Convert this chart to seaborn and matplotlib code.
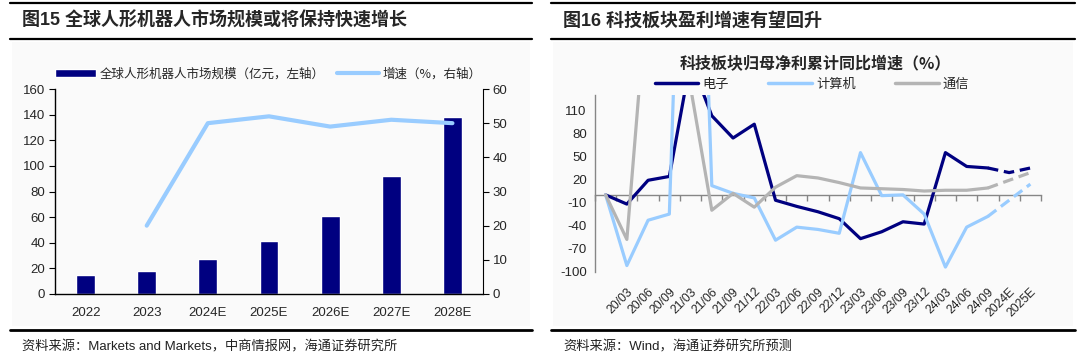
import numpy as np
import pandas as pd
import seaborn as sns
import matplotlib
matplotlib.use('Agg')
from matplotlib import pyplot as plt
from matplotlib.lines import Line2D
from matplotlib.patches import Rectangle

# left chart: global humanoid robot market
years = ['2022', '2023', '2024E', '2025E', '2026E', '2027E', '2028E']
market_size = [15, 18, 27, 41, 61, 92, 138]
growth_years = ['2023', '2024E', '2025E', '2026E', '2027E', '2028E']
growth = [20, 50, 52, 49, 51, 50]

# right chart: STAR-market profit growth by sector (first slot is a blank category)
quarters = ['', '20/03', '20/06', '20/09', '21/03', '21/06', '21/09', '21/12', '22/03', '22/06',
            '22/09', '22/12', '23/03', '23/06', '23/09', '23/12', '24/03', '24/06', '24/09',
            '2024E', '2025E']
electronics = [0, -12, 19, 24, 175, 103, 74, 92, -7, -15, -22, -31, -57, -48, -35, -38, 55, 37, 35, 29, 35]
computer = [0, -92, -33, -25, 800, 12, 2, -4, -59, -42, -45, -50, 55, -1, 0, -25, -94, -42, -28, -7, 14]
telecom = [0, -58, 280, 250, 140, -20, 2, -16, 10, 25, 22, 16, 9, 8, 7, 5, 6, 6, 9, 19, 29]
last_actual = '24/09'

NAVY = '#000080'
LIGHT = '#99CCFF'
GRAY = '#B4B4B4'
AXGRAY = '#868686'
W, H = 1080, 362

sns.set_style('white')
plt.rcParams['font.family'] = ['Liberation Sans', 'Noto Sans CJK SC', 'DejaVu Sans']
plt.rcParams['axes.unicode_minus'] = False
CJK = ['Noto Sans CJK SC', 'DejaVu Sans']

fig = plt.figure(figsize=(W / 100, H / 100), dpi=100)


def fx(x):
    return x / W


def fy(y):
    return 1 - y / H


# panel backgrounds and header / footer rules
for x0, x1 in [(10, 532), (551, 1075)]:
    fig.add_artist(Rectangle((fx(x0 + 2), fy(326)), fx(x1 - x0 - 4), (284) / H,
                             transform=fig.transFigure, facecolor='#fafafa', edgecolor='none', zorder=0))
    for y, lw in [(3, 1.6), (39, 1.6), (330, 2.0)]:
        fig.add_artist(Line2D([fx(x0), fx(x1)], [fy(y), fy(y)], transform=fig.transFigure,
                              color='black', lw=lw))

fig.text(fx(22), fy(21), '图15 全球人形机器人市场规模或将保持快速增长', fontsize=13, fontweight='bold',
         va='center', ha='left')
fig.text(fx(563), fy(21), '图16 科技板块盈利增速有望回升', fontsize=13, fontweight='bold',
         va='center', ha='left')
fig.text(fx(22), fy(347), '资料来源：Markets and Markets，中商情报网，海通证券研究所', fontsize=9.5,
         va='center', ha='left', color='#222222')
fig.text(fx(563), fy(347), '资料来源：Wind，海通证券研究所预测', fontsize=9.5,
         va='center', ha='left', color='#222222')

# ---- left chart ----
ax1 = fig.add_axes([fx(55), fy(294), fx(428), 205 / H])
ax1.set_facecolor('none')
df_bar = pd.DataFrame({'year': years, 'size': market_size})
sns.barplot(data=df_bar, x='year', y='size', color=NAVY, saturation=1, width=0.31, ax=ax1)
ax1.set_ylim(0, 160)
ax1.set_yticks(range(0, 161, 20))
ax1.set_xlim(-0.5, len(years) - 0.5)
ax1.set_xticks(np.arange(-0.5, len(years), 1), minor=True)
ax1.tick_params(axis='x', which='major', length=0, pad=9, labelsize=9.5)
ax1.tick_params(axis='x', which='minor', length=4, direction='out', color='black', width=1)
ax1.tick_params(axis='y', length=4, direction='out', color='black', labelsize=9.5, pad=3)
ax1.set_xlabel('')
ax1.set_ylabel('')
for s in ['top', 'right']:
    ax1.spines[s].set_visible(False)
for s in ['left', 'bottom']:
    ax1.spines[s].set_color('black')
    ax1.spines[s].set_linewidth(1)

ax2 = ax1.twinx()
growth_pos = [years.index(y) for y in growth_years]
sns.lineplot(x=growth_pos, y=growth, color=LIGHT, linewidth=3, ax=ax2)
ax2.set_ylim(0, 60)
ax2.set_yticks(range(0, 61, 10))
ax2.set_xlim(-0.5, len(years) - 0.5)
ax2.tick_params(axis='y', length=4, direction='out', color='black', labelsize=9.5, pad=3)
for s in ['top', 'left', 'bottom']:
    ax2.spines[s].set_visible(False)
ax2.spines['right'].set_color('black')
ax2.set_ylabel('')

fig.legend(handles=[ax1.patches[0], ax2.lines[0]],
           labels=['全球人形机器人市场规模（亿元，左轴）', '增速（%，右轴）'],
           loc='center', bbox_to_anchor=(fx(268), fy(74)), bbox_transform=fig.transFigure,
           ncol=2, frameon=False, handlelength=3.3, handleheight=0.6, handletextpad=0.3,
           columnspacing=1.0, prop={'family': CJK, 'size': 9})

# ---- right chart ----
ax3 = fig.add_axes([fx(595), fy(271.7), fx(446), 176.7 / H])
ax3.set_facecolor('none')
split = quarters.index(last_actual)
rows = []
for name, vals in [('电子', electronics), ('计算机', computer), ('通信', telecom)]:
    for i, v in enumerate(vals):
        if i <= split:
            rows.append((i, v, name, 'actual'))
        if i >= split:
            rows.append((i, v, name, 'forecast'))
df_lines = pd.DataFrame(rows, columns=['pos', 'value', 'series', 'segment'])
sns.lineplot(data=df_lines, x='pos', y='value', hue='series', style='segment',
             hue_order=['电子', '计算机', '通信'],
             palette={'电子': NAVY, '计算机': LIGHT, '通信': GRAY},
             dashes={'actual': '', 'forecast': (3.3, 1.8)},
             estimator=None, linewidth=2.3, legend=False, ax=ax3)
ymin, ymax = -100, 130
ax3.set_ylim(ymin, ymax)
ax3.set_yticks(range(-100, 111, 30))
ax3.set_xlim(-0.5, len(quarters) - 0.5)
ax3.set_xticks(range(len(quarters)))
ax3.set_xticklabels(quarters, rotation=45, ha='right', rotation_mode='anchor')
ax3.tick_params(axis='x', length=0, pad=10, labelsize=8.8)
ax3.tick_params(axis='y', length=3, direction='out', color=AXGRAY, labelsize=9.5, pad=3)
ax3.set_xlabel('')
ax3.set_ylabel('')
for s in ['top', 'right', 'bottom']:
    ax3.spines[s].set_visible(False)
ax3.spines['left'].set_color(AXGRAY)
ax3.spines['left'].set_linewidth(1)

# zero line with category boundary ticks
zero_axis = ax3.secondary_xaxis((0 - ymin) / (ymax - ymin))
zero_axis.set_xticks(np.arange(-0.5, len(quarters), 1))
zero_axis.tick_params(axis='x', labelbottom=False, labeltop=False, length=4, direction='out',
                      color=AXGRAY, width=1)
zero_axis.spines['bottom'].set_color(AXGRAY)
zero_axis.spines['bottom'].set_linewidth(1)

fig.text(fx(815), fy(64), '科技板块归母净利累计同比增速（%）', fontsize=11.5, fontweight='bold',
         ha='center', va='center', family=CJK)
handles = [Line2D([], [], color=c, lw=2.5) for c in [NAVY, LIGHT, GRAY]]
fig.legend(handles=handles, labels=['电子', '计算机', '通信'], loc='center',
           bbox_to_anchor=(fx(812), fy(84)), bbox_transform=fig.transFigure, ncol=3, frameon=False,
           handlelength=3.3, handletextpad=0.3, columnspacing=3.0, prop={'family': CJK, 'size': 9.5})

fig.savefig('out.png', dpi=100)
